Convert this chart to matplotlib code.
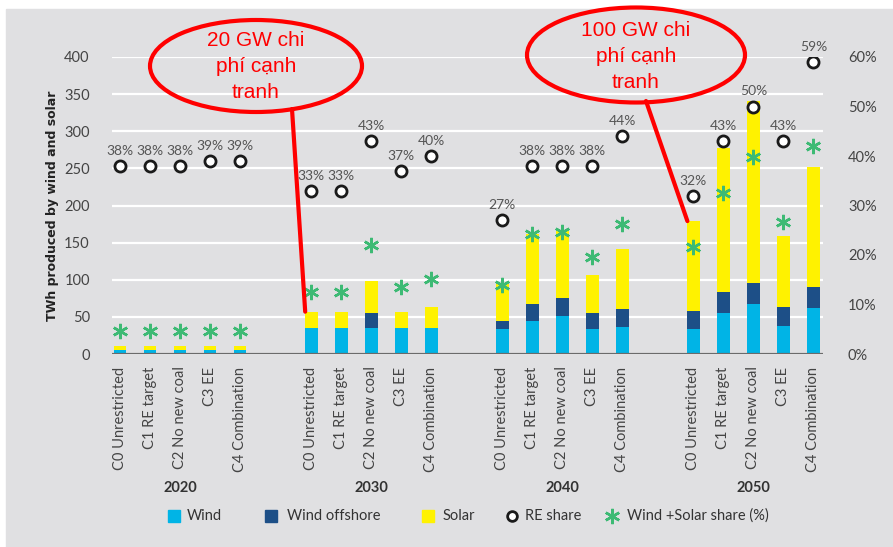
import numpy as np
import matplotlib.pyplot as plt
from matplotlib.patches import Ellipse, Rectangle, ConnectionPatch

plt.rcParams['font.family'] = ['Lato', 'DejaVu Sans']

# data
years = ['2020', '2030', '2040', '2050']
scenarios = ['C0 Unrestricted', 'C1 RE target', 'C2 No new coal', 'C3 EE', 'C4 Combination']
wind = [[5, 5, 5, 5, 5],
        [35, 35, 35, 35, 35],
        [34, 44, 51, 34, 37],
        [34, 55, 67, 38, 62]]
offshore = [[0, 0, 0, 0, 0],
            [0, 0, 20, 0, 0],
            [11, 24, 24, 21, 24],
            [24, 29, 29, 25, 28]]
solar = [[6, 6, 6, 6, 6],
         [22, 22, 43, 22, 28],
         [49, 93, 90, 51, 80],
         [121, 194, 245, 96, 162]]
re_share = [[38, 38, 38, 39, 39],
            [33, 33, 43, 37, 40],
            [27, 38, 38, 38, 44],
            [32, 43, 50, 43, 59]]
ws_share = [[4.7, 4.7, 4.7, 4.7, 4.7],
            [12.6, 12.6, 22.0, 13.6, 15.2],
            [13.9, 24.2, 24.7, 19.5, 26.2],
            [21.7, 32.6, 39.7, 26.6, 42.1]]

c_wind = '#00b4e6'
c_off = '#1d4f87'
c_solar = '#fff200'
c_green = '#3dba74'
bg = '#e0e0e2'

W, H = 893, 547
fig = plt.figure(figsize=(W / 100, H / 100), dpi=100)
fig.patches.append(Rectangle((6 / W, 0), 1, 1 - 9 / H, transform=fig.transFigure,
                             color=bg, zorder=-10))

ax = fig.add_axes([112 / W, 1 - 354 / H, (823 - 112) / W, (354 - 57) / H])
ax.set_facecolor('none')
gap = 6.37
pos = np.array([[g * gap + i for i in range(5)] for g in range(4)])
x = pos.ravel()
w = np.array(wind).ravel()
o = np.array(offshore).ravel()
s = np.array(solar).ravel()
ax.bar(x, w, 0.42, color=c_wind, zorder=3)
ax.bar(x, o, 0.42, bottom=w, color=c_off, zorder=3)
ax.bar(x, s, 0.42, bottom=w + o, color=c_solar, zorder=3)

ax.set_xlim(-0.27, 23.43)
ax.set_ylim(0, 400)
ax.set_yticks(range(0, 401, 50))
ax.yaxis.grid(True, color='white', lw=1.6, zorder=0)
ax.set_axisbelow(True)
for sp in ax.spines.values():
    sp.set_visible(False)
ax.axhline(0, color='#6b6b6b', lw=1.6, zorder=4)
ax.tick_params(axis='y', length=0, pad=16, labelsize=10.5, labelcolor='#444444')
ax.set_xticks(x)
ax.set_xticklabels(scenarios * 4, rotation=90, fontsize=10.5, color='#444444')
ax.tick_params(axis='x', length=0, pad=9)
ax.set_ylabel('TWh produced by wind and solar', fontsize=9, fontweight='bold',
              color='#222222', labelpad=4, family='DejaVu Sans')

for g, yr in enumerate(years):
    ax.text(pos[g].mean(), -0.452, yr, transform=ax.get_xaxis_transform(),
            ha='center', va='center', fontsize=10.5, fontweight='bold', color='#333333')

ax2 = ax.twinx()
ax2.set_ylim(0, 60)
ax2.set_yticks(range(0, 61, 10))
ax2.set_yticklabels([f'{v}%' for v in range(0, 61, 10)])
ax2.tick_params(axis='y', length=0, pad=18, labelsize=10.5, labelcolor='#444444')
for sp in ax2.spines.values():
    sp.set_visible(False)
r = np.array(re_share).ravel()
ws = np.array(ws_share).ravel()
ax2.plot(x, ws, ls='none', marker=(6, 2, 0), ms=11, mew=1.8, color=c_green, zorder=5)
ax2.plot(x, r, ls='none', marker='o', ms=8, mfc='white', mec='#1a1a1a', mew=2, zorder=6)
for xi, ri in zip(x, r):
    ax2.annotate(f'{ri:.0f}%', (xi, ri), xytext=(0, 6.5), textcoords='offset points',
                 ha='center', va='bottom', fontsize=10, color='#555555', clip_on=False)

# overlay in pixel coordinates for callouts and legend
ov = fig.add_axes([0, 0, 1, 1])
ov.set_xlim(0, W)
ov.set_ylim(H, 0)
ov.axis('off')
ov.patch.set_alpha(0)

callouts = [((256, 66), 212, 92, ['20 GW chi', 'phí cạnh', 'tranh'], (292, 109), 1, 0),
            ((636, 55), 218, 95, ['100 GW chi', 'phí cạnh', 'tranh'], (646, 101), 3, 0)]
for (cx, cy), ew, eh, lines, start, g, i in callouts:
    ov.add_patch(Ellipse((cx, cy), ew, eh, fill=False, ec='red', lw=3, zorder=10))
    for k, t in enumerate(lines):
        ov.text(cx, cy - 25 + 26 * k, t, ha='center', va='center', color='red',
                fontsize=15, family=['Liberation Sans', 'DejaVu Sans'], zorder=11)
    top = wind[g][i] + offshore[g][i] + solar[g][i]
    con = ConnectionPatch(xyA=start, coordsA=ov.transData,
                          xyB=(pos[g][i] - 0.2, top), coordsB=ax.transData,
                          color='red', lw=3, zorder=10)
    fig.add_artist(con)

ly = 516
ov.add_patch(Rectangle((168, ly - 6), 12, 12, color=c_wind))
ov.text(187, ly, 'Wind', va='center', fontsize=10.5, color='#333333')
ov.add_patch(Rectangle((265, ly - 6), 12, 12, color=c_off))
ov.text(287, ly, 'Wind offshore', va='center', fontsize=10.5, color='#333333')
ov.add_patch(Rectangle((422, ly - 6), 12, 12, color=c_solar))
ov.text(443, ly, 'Solar', va='center', fontsize=10.5, color='#333333')
ov.plot([512], [ly], marker='o', ms=7, mfc='white', mec='#1a1a1a', mew=2)
ov.text(525, ly, 'RE share', va='center', fontsize=10.5, color='#333333')
ov.plot([612], [ly], marker=(6, 2, 0), ms=11, mew=1.8, color=c_green)
ov.text(627, ly, 'Wind +Solar share (%)', va='center', fontsize=10.5, color='#333333')

fig.savefig('out.png', dpi=100)
